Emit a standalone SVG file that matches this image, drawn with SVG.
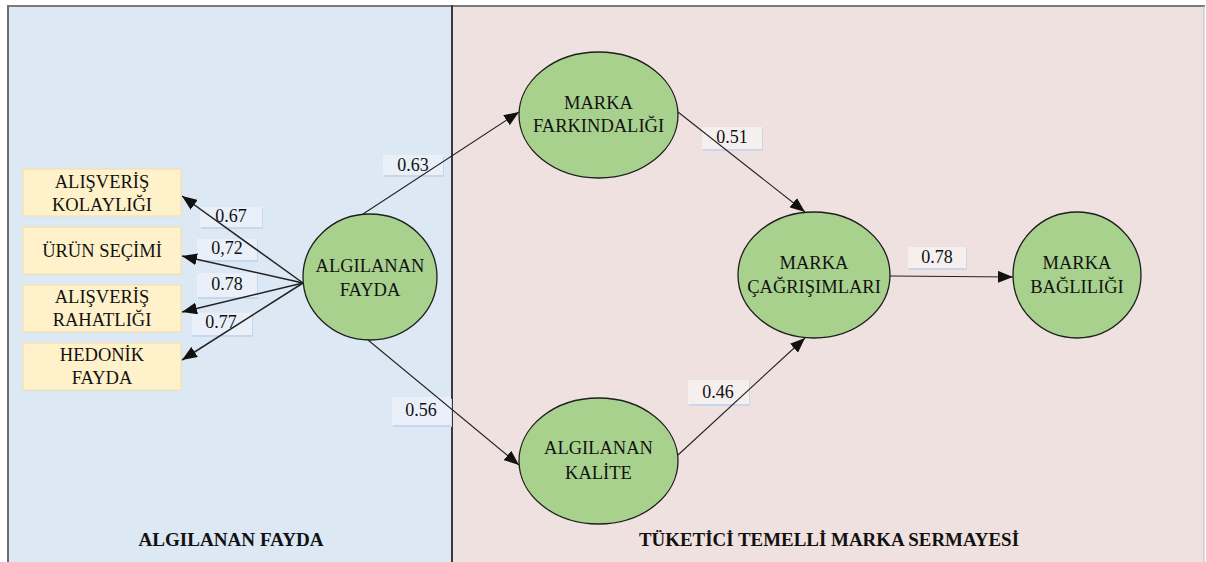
<svg xmlns="http://www.w3.org/2000/svg" width="1206" height="562" viewBox="0 0 1206 562">
<style>
.t{font-family:"Liberation Serif","Times New Roman",serif;font-size:18.5px;fill:#111;text-anchor:middle}
.n{font-family:"Liberation Serif","Times New Roman",serif;font-size:18px;fill:#111;text-anchor:middle}
.h{font-family:"Liberation Serif","Times New Roman",serif;font-size:19px;font-weight:bold;fill:#111;text-anchor:middle}
.box{fill:#FFF1C9;stroke:#F2DDA8;stroke-width:1}
.ell{fill:#A9D18E;stroke:#1E1E1E;stroke-width:1.3}
.lbl{fill:#E9F0F9}
.lbr{fill:#F5EFEE}
.ls{fill:#C8D7EC}
.c{stroke:#222;stroke-width:1.1;fill:none;marker-end:url(#ah)}
.c2{stroke:#222;stroke-width:1.5;fill:none;marker-end:url(#ah)}
</style>
<defs>
<marker id="ah" markerUnits="userSpaceOnUse" markerWidth="16" markerHeight="12" refX="15" refY="6" orient="auto">
<path d="M0,0 L15,6 L0,12 Z" fill="#111"/>
</marker>
</defs>
<g id="background">
<rect x="8" y="6" width="444" height="556" fill="#DDE8F5"/>
<rect x="452" y="6" width="752" height="556" fill="#EFE1DF"/>
<line x1="7" y1="6" x2="1205" y2="6" stroke="#7A7A7A" stroke-width="2"/>
<line x1="8" y1="5" x2="8" y2="562" stroke="#6E6E6E" stroke-width="2"/>
<line x1="452" y1="5" x2="452" y2="562" stroke="#3A3A3A" stroke-width="2"/>
<line x1="1204" y1="6" x2="1204" y2="562" stroke="#BDBDBD" stroke-width="1"/>
</g>
<g id="label-boxes">
<rect class="ls" x="384" y="157" width="60" height="20"/><rect class="lbl" x="383" y="155" width="60" height="20"/>
<rect class="ls" x="201" y="209" width="62" height="20"/><rect class="lbl" x="200" y="207" width="62" height="20"/>
<rect class="ls" x="198" y="241" width="60" height="21"/><rect class="lbl" x="197" y="239" width="60" height="21"/>
<rect class="ls" x="198" y="275" width="60" height="24"/><rect class="lbl" x="197" y="273" width="60" height="24"/>
<rect class="ls" x="193" y="315" width="60" height="22"/><rect class="lbl" x="192" y="313" width="60" height="22"/>
<rect class="ls" x="703" y="129" width="60" height="22"/><rect class="lbr" x="702" y="127" width="60" height="22"/>
<rect class="ls" x="393" y="399" width="59" height="28"/><rect class="lbl" x="392" y="397" width="59" height="28"/>
<rect class="ls" x="689" y="382" width="61" height="24"/><rect class="lbr" x="688" y="380" width="61" height="24"/>
<rect class="ls" x="909" y="249" width="58" height="21"/><rect class="lbr" x="908" y="247" width="58" height="21"/>
</g>
<g id="connectors">
<line class="c2" x1="303" y1="283" x2="182" y2="196"/>
<line class="c2" x1="303" y1="283" x2="182" y2="256"/>
<line class="c2" x1="303" y1="283" x2="182" y2="312"/>
<line class="c2" x1="303" y1="283" x2="182" y2="360"/>
<line class="c" x1="363" y1="214" x2="519" y2="112"/>
<line class="c" x1="678" y1="112" x2="805" y2="212"/>
<line class="c" x1="368" y1="340" x2="519" y2="465"/>
<line class="c" x1="678" y1="455" x2="805" y2="338"/>
<line class="c" x1="890" y1="276" x2="1013" y2="277"/>
</g>
<g id="connector-labels">
<text class="n" x="413" y="171">0.63</text>
<text class="n" x="231" y="222">0.67</text>
<text class="n" x="227" y="254">0,72</text>
<text class="n" x="227" y="290">0.78</text>
<text class="n" x="221" y="328">0.77</text>
<text class="n" x="732" y="143">0.51</text>
<text class="n" x="421" y="416">0.56</text>
<text class="n" x="718" y="398">0.46</text>
<text class="n" x="937" y="263">0.78</text>
</g>
<g id="node-alisveris-kolayligi">
<rect class="box" x="23" y="169" width="158" height="47"/>
<text class="t" x="102" y="188">ALIŞVERİŞ</text>
<text class="t" x="102" y="211">KOLAYLIĞI</text>
</g>
<g id="node-urun-secimi">
<rect class="box" x="23" y="227" width="158" height="47"/>
<text class="t" x="102" y="257">ÜRÜN SEÇİMİ</text>
</g>
<g id="node-alisveris-rahatligi">
<rect class="box" x="23" y="285" width="158" height="47"/>
<text class="t" x="102" y="303">ALIŞVERİŞ</text>
<text class="t" x="102" y="326">RAHATLIĞI</text>
</g>
<g id="node-hedonik-fayda">
<rect class="box" x="23" y="343" width="158" height="47"/>
<text class="t" x="102" y="361">HEDONİK</text>
<text class="t" x="102" y="384">FAYDA</text>
</g>
<g id="node-algilanan-fayda">
<ellipse class="ell" cx="370" cy="277" rx="67" ry="63"/>
<text class="t" x="370" y="272">ALGILANAN</text>
<text class="t" x="370" y="296">FAYDA</text>
</g>
<g id="node-marka-farkindaligi">
<ellipse class="ell" cx="598.5" cy="115" rx="79.5" ry="63"/>
<text class="t" x="598.5" y="109">MARKA</text>
<text class="t" x="598.5" y="132">FARKINDALIĞI</text>
</g>
<g id="node-algilanan-kalite">
<ellipse class="ell" cx="598.5" cy="461" rx="79.5" ry="63"/>
<text class="t" x="598.5" y="454">ALGILANAN</text>
<text class="t" x="598.5" y="479">KALİTE</text>
</g>
<g id="node-marka-cagrisimlari">
<ellipse class="ell" cx="814" cy="275" rx="76" ry="63"/>
<text class="t" x="814" y="269">MARKA</text>
<text class="t" x="814" y="293">ÇAĞRIŞIMLARI</text>
</g>
<g id="node-marka-bagliligi">
<ellipse class="ell" cx="1077" cy="275" rx="64" ry="63"/>
<text class="t" x="1077" y="269">MARKA</text>
<text class="t" x="1077" y="293">BAĞLILIĞI</text>
</g>
<g id="panel-titles">
<text class="h" x="231" y="546" textLength="185" lengthAdjust="spacingAndGlyphs">ALGILANAN FAYDA</text>
<text class="h" x="829" y="546" textLength="380" lengthAdjust="spacingAndGlyphs">TÜKETİCİ TEMELLİ MARKA SERMAYESİ</text>
</g>
</svg>
